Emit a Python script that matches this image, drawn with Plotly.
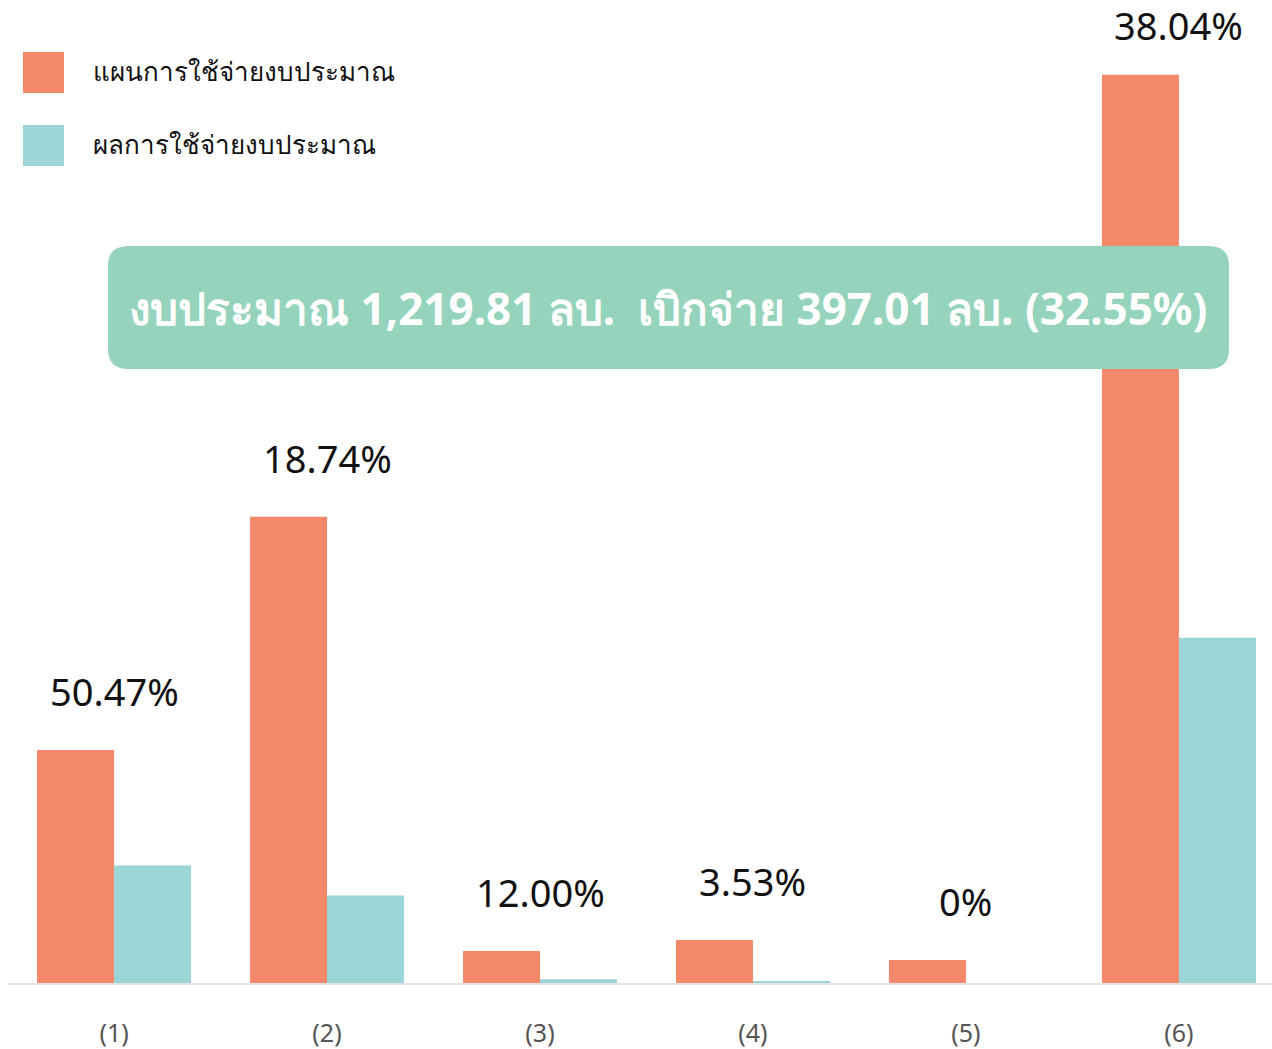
import plotly.graph_objects as go

categories = ["(1)", "(2)", "(3)", "(4)", "(5)", "(6)"]
plan_values = [166.7, 333.4, 22.9, 30.8, 16.5, 649.5]
actual_values = [84.1, 62.5, 2.75, 1.09, 0.0, 246.9]
pct_labels = ["50.47%", "18.74%", "12.00%", "3.53%", "0%", "38.04%"]
series_names = ["แผนการใช้จ่ายงบประมาณ", "ผลการใช้จ่ายงบประมาณ"]
banner_text = "งบประมาณ 1,219.81 ลบ.  เบิกจ่าย 397.01 ลบ. (32.55%)"

ORANGE = "#F4886B"
TEAL = "#9BD5D6"
BANNER = "#95D3BD"
FONT = "Noto Sans, DejaVu Sans, sans-serif"

W, H = 1272, 1049
ML, MR, MT, MB = 8, 0, 0, 66
PW, PH = W - ML - MR, H - MT - MB
Y_MAX = 703


def px(x):
    return (x - ML) / PW


def py(y):
    return (H - MB - y) / PH


fig = go.Figure()
fig.add_trace(go.Bar(x=categories, y=plan_values, name=series_names[0],
                     marker=dict(color=ORANGE, line=dict(width=0)), showlegend=False))
fig.add_trace(go.Bar(x=categories, y=actual_values, name=series_names[1],
                     marker=dict(color=TEAL, line=dict(width=0)), showlegend=False))

annotations = []
for c, v, t in zip(categories, plan_values, pct_labels):
    # keep the label inside the chart when the bar is very tall
    room_px = (Y_MAX - v) * PH / Y_MAX - 53
    shift = min(31, room_px)
    annotations.append(dict(x=c, y=v, xref="x", yref="y", text=t, showarrow=False,
                            yanchor="bottom", yshift=shift,
                            font=dict(family=FONT, size=38, color="#111111")))

# legend drawn manually
shapes = []
for i, (name, col) in enumerate(zip(series_names, [ORANGE, TEAL])):
    y0 = 52 + i * 73
    shapes.append(dict(type="rect", xref="paper", yref="paper",
                       x0=px(23), x1=px(64), y0=py(y0 + 41), y1=py(y0),
                       fillcolor=col, line=dict(width=0)))
    annotations.append(dict(x=px(91), y=py(y0 + 19), xref="paper", yref="paper",
                            text=name, showarrow=False, xanchor="left", yanchor="middle",
                            font=dict(family=FONT, size=26, color="#111111")))

# banner rounded rectangle
bx0, bx1, by0, by1, r = 108, 1229, 246, 369, 20
path = (f"M {px(bx0 + r)},{py(by0)} L {px(bx1 - r)},{py(by0)} "
        f"Q {px(bx1)},{py(by0)} {px(bx1)},{py(by0 + r)} "
        f"L {px(bx1)},{py(by1 - r)} Q {px(bx1)},{py(by1)} {px(bx1 - r)},{py(by1)} "
        f"L {px(bx0 + r)},{py(by1)} Q {px(bx0)},{py(by1)} {px(bx0)},{py(by1 - r)} "
        f"L {px(bx0)},{py(by0 + r)} Q {px(bx0)},{py(by0)} {px(bx0 + r)},{py(by0)} Z")
shapes.append(dict(type="path", xref="paper", yref="paper", path=path,
                   fillcolor=BANNER, line=dict(width=0), layer="above"))
annotations.append(dict(x=px((bx0 + bx1) / 2), y=py((by0 + by1) / 2), xref="paper", yref="paper",
                        text=f"<b>{banner_text}</b>", showarrow=False,
                        xanchor="center", yanchor="middle",
                        font=dict(family=FONT, size=44, color="white")))

fig.update_layout(
    width=W, height=H,
    margin=dict(l=ML, r=MR, t=MT, b=MB),
    paper_bgcolor="white", plot_bgcolor="white",
    barmode="group", bargap=0.277, bargroupgap=0,
    shapes=shapes, annotations=annotations,
    xaxis=dict(range=[-0.498, 5.437], showgrid=False, zeroline=False, automargin=False,
               showline=True, linecolor="#E2E2E2", linewidth=2,
               ticks="outside", ticklen=27, tickcolor="rgba(0,0,0,0)",
               tickfont=dict(family=FONT, size=25, color="#555555"), fixedrange=True),
    yaxis=dict(range=[0, Y_MAX], visible=False, showgrid=False, zeroline=False,
               automargin=False, fixedrange=True),
)

fig.write_html("out.html", config={"displayModeBar": False},
               post_script="document.body.style.margin='0';document.body.style.overflow='hidden';")
